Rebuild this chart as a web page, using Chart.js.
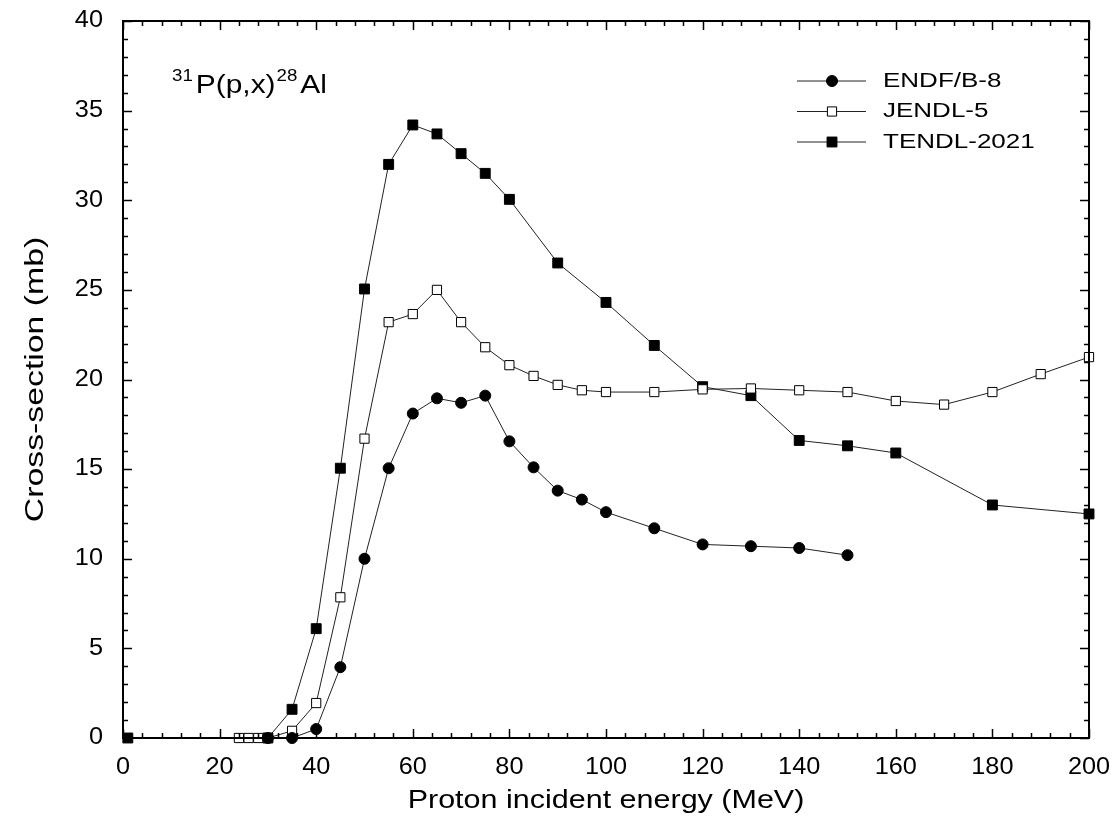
<!DOCTYPE html>
<html>
<head>
<meta charset="utf-8">
<script src="https://cdn.jsdelivr.net/npm/chart.js@4.4.1/dist/chart.umd.min.js"></script>
<style>
  body { margin: 0; background: #fff; }
</style>
</head>
<body>
<canvas id="myChart" width="1118" height="826"></canvas>
<script>
// energies in MeV, cross-sections in mb
const endfE = [30, 35, 40, 45, 50, 55, 60, 65, 70, 75, 80, 85, 90, 95, 100, 110, 120, 130, 140, 150]
const endfV = [0, 0, 0.5, 3.95, 10.0, 15.05, 18.1, 18.95, 18.7, 19.1, 16.55, 15.1, 13.8, 13.3, 12.6, 11.7, 10.8, 10.7, 10.6, 10.2]

const jendlE = [24, 26, 28, 30, 35, 40, 45, 50, 55, 60, 65, 70, 75, 80, 85, 90, 95, 100, 110, 120, 130, 140, 150, 160, 170, 180, 190, 200]
const jendlV = [0, 0, 0, 0, 0.4, 1.95, 7.85, 16.7, 23.2, 23.65, 25.0, 23.2, 21.8, 20.8, 20.2, 19.7, 19.4, 19.3, 19.3, 19.45, 19.5, 19.4, 19.3, 18.8, 18.6, 19.3, 20.3, 21.25]

const tendlE = [1, 30, 35, 40, 45, 50, 55, 60, 65, 70, 75, 80, 90, 100, 110, 120, 130, 140, 150, 160, 180, 200]
const tendlV = [0, 0, 1.6, 6.1, 15.05, 25.05, 32.0, 34.2, 33.7, 32.6, 31.5, 30.05, 26.5, 24.3, 21.9, 19.6, 19.1, 16.6, 16.3, 15.9, 13.0, 12.5]

const xTicks = [0, 20, 40, 60, 80, 100, 120, 140, 160, 180, 200]
const yTicks = [0, 5, 10, 15, 20, 25, 30, 35, 40]

const seriesNames = ['ENDF/B-8', 'JENDL-5', 'TENDL-2021']

const toXY = (xs, ys) => xs.map((e, i) => ({x: e, y: ys[i]}))
const FONT = '"Liberation Sans", Arial, sans-serif'

// text drawn a bit wider than normal, like the original picture
function wideText(ctx, txt, x, y, size, align, sx) {
  ctx.save()
  ctx.font = size + 'px ' + FONT
  ctx.textBaseline = 'middle'
  const w = ctx.measureText(txt).width * sx
  let x0 = x
  if (align === 'center') x0 = x - w / 2
  if (align === 'right') x0 = x - w
  ctx.translate(x0, y)
  ctx.scale(sx, 1)
  ctx.textAlign = 'left'
  ctx.fillText(txt, 0, 0)
  ctx.restore()
  return w
}

const framePlugin = {
  id: 'frame',
  afterDraw(chart) {
    const {ctx, chartArea: {left, right, top, bottom}, scales: {x, y}} = chart
    ctx.save()
    ctx.fillStyle = '#000'
    ctx.strokeStyle = '#000'

    // inward ticks on all four sides
    ctx.lineWidth = 1.5
    ctx.beginPath()
    for (let v = 0; v <= 200; v += 4) {
      const px = Math.round(x.getPixelForValue(v)) + 0.5
      const len = v % 20 === 0 ? 9 : 5
      ctx.moveTo(px, bottom); ctx.lineTo(px, bottom - len)
      ctx.moveTo(px, top); ctx.lineTo(px, top + len)
    }
    for (let v = 0; v <= 40; v += 1) {
      const py = Math.round(y.getPixelForValue(v)) + 0.5
      const len = v % 5 === 0 ? 9 : 5
      ctx.moveTo(left, py); ctx.lineTo(left + len, py)
      ctx.moveTo(right, py); ctx.lineTo(right - len, py)
    }
    ctx.stroke()

    ctx.lineWidth = 2
    ctx.strokeRect(left, top, right - left, bottom - top)

    // tick labels
    xTicks.forEach(v => wideText(ctx, String(v), x.getPixelForValue(v), bottom + 30, 23, 'center', 1.1))
    yTicks.forEach(v => wideText(ctx, String(v), left - 20, y.getPixelForValue(v), 23, 'right', 1.1))

    // axis titles
    wideText(ctx, 'Proton incident energy (MeV)', (left + right) / 2, bottom + 63, 25, 'center', 1.22)
    ctx.save()
    ctx.translate(36, (top + bottom) / 2)
    ctx.rotate(-Math.PI / 2)
    wideText(ctx, 'Cross-section (mb)', 0, 0, 26, 'center', 1.3)
    ctx.restore()

    // reaction label 31P(p,x)28Al
    let ax = 172
    const ay = 86
    ax += wideText(ctx, '31', ax, ay - 10, 17, 'left', 1.1) + 3
    ax += wideText(ctx, 'P(p,x)', ax, ay, 26, 'left', 1.15) + 1
    ax += wideText(ctx, '28', ax, ay - 10, 17, 'left', 1.1) + 3
    wideText(ctx, 'Al', ax, ay, 26, 'left', 1.15)

    // legend: line with marker, then name
    chart.data.datasets.forEach((ds, i) => {
      const ly = 81 + i * 30.5
      ctx.lineWidth = 1
      ctx.strokeStyle = '#222'
      ctx.beginPath()
      ctx.moveTo(797, ly); ctx.lineTo(866, ly)
      ctx.stroke()
      ctx.save()
      ctx.fillStyle = ds.pointBackgroundColor
      ctx.strokeStyle = ds.pointBorderColor
      ctx.lineWidth = 1
      Chart.helpers.drawPoint(ctx, {pointStyle: ds.pointStyle, radius: ds.pointRadius, borderWidth: 1}, 832, ly)
      ctx.restore()
      ctx.fillStyle = '#000'
      wideText(ctx, seriesNames[i], 883, ly, 20, 'left', 1.3)
    })
    ctx.restore()
  }
}

const ctx = document.getElementById('myChart').getContext('2d')
const myChart = new Chart(ctx, {
  type: 'line',
  data: {
    datasets: [{
      label: seriesNames[0],
      data: toXY(endfE, endfV),
      borderColor: '#222',
      borderWidth: 1,
      pointStyle: 'circle',
      pointRadius: 5.5,
      pointBackgroundColor: '#000',
      pointBorderColor: '#000',
      pointBorderWidth: 1
    }, {
      label: seriesNames[1],
      data: toXY(jendlE, jendlV),
      borderColor: '#222',
      borderWidth: 1,
      pointStyle: 'rect',
      pointRadius: 6.5,
      pointBackgroundColor: '#fff',
      pointBorderColor: '#000',
      pointBorderWidth: 1
    }, {
      label: seriesNames[2],
      data: toXY(tendlE, tendlV),
      borderColor: '#222',
      borderWidth: 1,
      pointStyle: 'rect',
      pointRadius: 7,
      pointBackgroundColor: '#000',
      pointBorderColor: '#000',
      pointBorderWidth: 1
    }]
  },
  options: {
    responsive: false,
    animation: false,
    clip: false,
    layout: { padding: { top: 21, right: 29, left: 0, bottom: 0 } },
    plugins: {
      legend: { display: false },
      tooltip: { enabled: false }
    },
    scales: {
      x: {
        type: 'linear',
        min: 0,
        max: 200,
        ticks: { display: false, stepSize: 20 },
        grid: { display: false },
        border: { display: false },
        afterFit(s) { s.height = 88 }
      },
      y: {
        min: 0,
        max: 40,
        ticks: { display: false, stepSize: 5 },
        grid: { display: false },
        border: { display: false },
        afterFit(s) { s.width = 123 }
      }
    }
  },
  plugins: [framePlugin]
})
</script>
</body>
</html>
